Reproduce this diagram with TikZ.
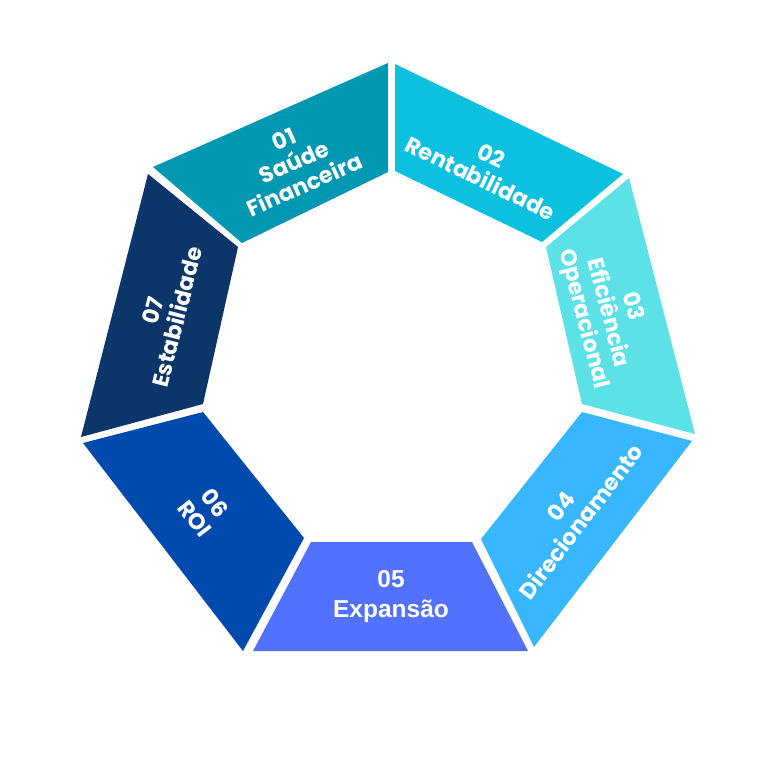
\documentclass[tikz,border=0pt]{standalone}
\usepackage{fontspec}
\setmainfont{Poppins}
\newfontfamily\arialfont{Liberation Sans}
\definecolor{c1}{HTML}{0097B2}
\definecolor{c2}{HTML}{0CC0DF}
\definecolor{c3}{HTML}{5CE1E6}
\definecolor{c4}{HTML}{38B6FF}
\definecolor{c5}{HTML}{5271FF}
\definecolor{c6}{HTML}{004AAD}
\definecolor{c7}{HTML}{0C356A}
\begin{document}
\begin{tikzpicture}[x=1pt,y=-1pt,
  lbl/.style={text=white, font=\bfseries\fontsize{22.5}{25}\selectfont, align=center, inner sep=0pt},
  lblb/.style={text=white, font=\arialfont\bfseries\fontsize{24.5}{30}\selectfont, align=center, inner sep=0pt}]
\useasboundingbox (0,0) rectangle (768,764);
\fill[white] (0,0) rectangle (768,764);
% segments
\fill[c1] (153,167) -- (388,63) -- (388,172) -- (242,243) -- cycle;
\fill[c2] (395,64) -- (623,174) -- (542,242) -- (395,171) -- cycle;
\fill[c3] (629,178) -- (695,434) -- (582,404) -- (546,247) -- cycle;
\fill[c4] (692,441) -- (534,647) -- (481,539) -- (582,412) -- cycle;
\fill[c5] (311,542) -- (472,542) -- (528,651) -- (253,651) -- cycle;
\fill[c6] (83,443) -- (203,412) -- (304,538) -- (243,651) -- cycle;
\fill[c7] (148,174) -- (238,247) -- (203,404) -- (81,437) -- cycle;
% labels
\node[lbl, rotate=23.9] (t1) at (294,162) {01\\Saúde\\Financeira};
\node[lbl, rotate=-25.8] (t2) at (486,167) {02\\Rentabilidade};
\node[lbl, rotate=-75.5] (t3) at (607,313) {03\\Eficiência\\Operacional};
\node[lbl, rotate=52.5] (t4) at (571,514) {04\\Direcionamento};
\node[lblb] (t5) at (391,596) {05\\Expansão};
\node[lbl, rotate=-52.4] (t6) at (205,511) {06\\ROI};
\node[lbl, rotate=75.7] (t7) at (165,314) {07\\Estabilidade};
\end{tikzpicture}
\end{document}
